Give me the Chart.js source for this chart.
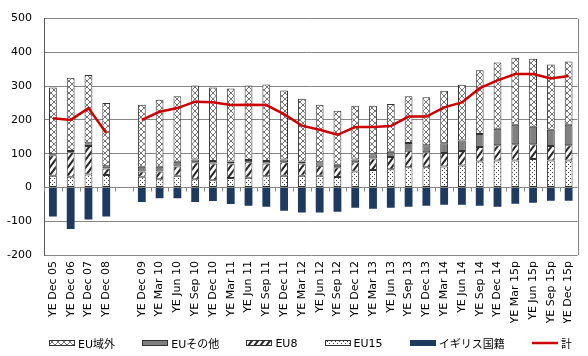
<!DOCTYPE html>
<html><head><meta charset="utf-8">
<script src="https://cdn.jsdelivr.net/npm/chart.js@4.4.1/dist/chart.umd.min.js"></script>
<style>
html,body{margin:0;padding:0;background:#fff;}
#wrap{position:relative;width:588px;height:356px;overflow:hidden;}
#legend{position:absolute;left:49px;top:336px;width:523px;height:14px;display:flex;justify-content:space-between;align-items:center;font:11px 'DejaVu Sans','Noto Sans CJK JP',sans-serif;color:#000;}
#legend .it{display:flex;align-items:center;white-space:nowrap;}
#legend canvas{display:block;margin-right:3px;}
</style>
</head><body>
<div id="wrap"><canvas id="c" width="588" height="356"></canvas><div id="legend"></div></div>
<script>
const categories = ['YE Dec 05','YE Dec 06','YE Dec 07','YE Dec 08','','YE Dec 09','YE Mar 10','YE Jun 10','YE Sep 10','YE Dec 10','YE Mar 11','YE Jun 11','YE Sep 11','YE Dec 11','YE Mar 12','YE Jun 12','YE Sep 12','YE Dec 12','YE Mar 13','YE Jun 13','YE Sep 13','YE Dec 13','YE Mar 14','YE Jun 14','YE Sep 14','YE Dec 14','YE Mar 15p','YE Jun 15p','YE Sep 15p','YE Dec 15p'];
const eu15    = [35,32,38,37,null,32,24,35,24,21,28,29,33,35,35,35,31,47,52,54,60,60,62,65,77,80,80,84,80,80];
const eu8     = [60,72,85,19,null,15,23,27,51,50,43,46,38,40,36,29,29,28,34,36,49,44,40,43,43,45,48,44,43,45];
const euOther = [3,4,8,7,null,14,14,14,8,7,6,6,7,8,6,11,7,8,12,16,23,21,29,31,38,49,58,52,48,61];
const nonEU   = [198,217,202,187,null,184,199,194,219,218,216,221,227,204,186,170,160,159,144,141,138,142,155,165,189,196,198,201,193,187];
const ukNat   = [-86,-123,-95,-86,null,-43,-32,-32,-43,-40,-49,-54,-57,-69,-74,-74,-72,-60,-63,-60,-57,-54,-51,-51,-54,-57,-48,-45,-39,-39];
const total   = [205,200,235,161,null,200,224,235,254,252,244,245,244,217,183,171,156,179,179,182,210,210,237,252,294,317,336,336,323,330];
const yTicks  = {min:-200, max:500, step:100};

const F = "'DejaVu Sans','Noto Sans CJK JP',sans-serif";
const canvas = document.getElementById('c');
const mctx = canvas.getContext('2d');

function tile(w,h,draw){const c=document.createElement('canvas');c.width=w;c.height=h;const g=c.getContext('2d');g.fillStyle='#fff';g.fillRect(0,0,w,h);draw(g);return c;}
const crossTile = tile(6,6,g=>{g.strokeStyle='#505050';g.lineWidth=0.8;g.beginPath();g.moveTo(0,0);g.lineTo(6,6);g.moveTo(6,0);g.lineTo(0,6);g.stroke();});
const stripeTile = tile(6,8,g=>{g.fillStyle='#2a2a2a';g.beginPath();
  // steep "/" stripes, 6 wide x 8 tall tile
  for(const o of [-6,0,6]){g.moveTo(o+0,8);g.lineTo(o+2.6,8);g.lineTo(o+6+2.6,0);g.lineTo(o+6,0);g.closePath();}
  g.fill();});
const dotTile = tile(4,4,g=>{g.fillStyle='#404040';g.fillRect(0,0,1,1);g.fillRect(2,2,1,1);});
const pCross = mctx.createPattern(crossTile,'repeat');
const pStripe = mctx.createPattern(stripeTile,'repeat');
const pDot = mctx.createPattern(dotTile,'repeat');

const EDGE = '#333333';
const barBase = {stack:'s', borderColor:EDGE, borderWidth:1, borderSkipped:false, order:1};
const datasets = [
  Object.assign({label:'EU15', data:eu15, backgroundColor:pDot}, barBase),
  Object.assign({label:'EU8', data:eu8, backgroundColor:pStripe}, barBase),
  Object.assign({label:'EUその他', data:euOther, backgroundColor:'#808080'}, barBase),
  Object.assign({label:'EU域外', data:nonEU, backgroundColor:pCross}, barBase),
  {label:'イギリス国籍', data:ukNat, backgroundColor:'#1F3A5F', borderColor:'#1F3A5F', borderWidth:0, stack:'s', order:1},
  {type:'line', label:'計', data:total, borderColor:'#CC0000', borderWidth:2.5, pointRadius:0, fill:false, tension:0, stack:'t', order:0}
];

const decor = {
  id:'decor',
  beforeDatasetsDraw(chart){
    const {ctx, chartArea:a, scales:{x,y}} = chart;
    ctx.save();
    ctx.strokeStyle='#868686'; ctx.lineWidth=1;
    ctx.beginPath();
    const rx = Math.round(a.right)+0.5;
    ctx.moveTo(rx,a.top); ctx.lineTo(rx,a.bottom);
    const y0 = Math.round(y.getPixelForValue(0))+0.5;
    const step = x.getPixelForValue(1)-x.getPixelForValue(0);
    for(let i=0;i<=categories.length;i++){
      const px = Math.round(x.getPixelForValue(0)-step/2+i*step)+0.5;
      ctx.moveTo(px,y0); ctx.lineTo(px,y0+4);
    }
    ctx.stroke();
    ctx.restore();
  }
};

new Chart(canvas,{
  type:'bar',
  data:{labels:categories, datasets},
  options:{
    responsive:false, animation:false,
    layout:{padding:{left:4,right:10,top:12,bottom:33}},
    plugins:{legend:{display:false}, tooltip:{enabled:false}},
    datasets:{bar:{categoryPercentage:1, barPercentage:0.44}},
    scales:{
      x:{stacked:true, grid:{display:false,drawTicks:false}, border:{display:false},
         ticks:{autoSkip:false,minRotation:90,maxRotation:90,padding:6,color:'#000',font:{size:11,family:F}},
         afterFit(s){s.height=68;}},
      y:{stacked:true, min:yTicks.min, max:yTicks.max,
         ticks:{stepSize:yTicks.step,color:'#000',padding:12,font:{size:11,family:F}},
         grid:{color:'#868686',drawTicks:false}, border:{color:'#595959'},
         afterFit(s){s.width=40;}}
    }
  },
  plugins:[decor]
});

// legend (real text)
const legendOrder = [3,2,1,0,4,5];
const lg = document.getElementById('legend');
legendOrder.forEach(i=>{
  const ds = datasets[i];
  const it = document.createElement('div'); it.className='it';
  const sw = document.createElement('canvas'); sw.width=26; sw.height=8;
  const g = sw.getContext('2d');
  if(ds.type==='line'){
    g.strokeStyle=ds.borderColor; g.lineWidth=2.5; g.beginPath(); g.moveTo(0,4); g.lineTo(26,4); g.stroke();
  } else {
    g.fillStyle = ds.backgroundColor; g.fillRect(0,1,26,6);
    if(ds.borderWidth){ g.strokeStyle=ds.borderColor; g.lineWidth=1; g.strokeRect(0.5,1.5,25,5); }
  }
  const t = document.createElement('span'); t.textContent = ds.label;
  it.appendChild(sw); it.appendChild(t); lg.appendChild(it);
});
</script>
</body></html>
